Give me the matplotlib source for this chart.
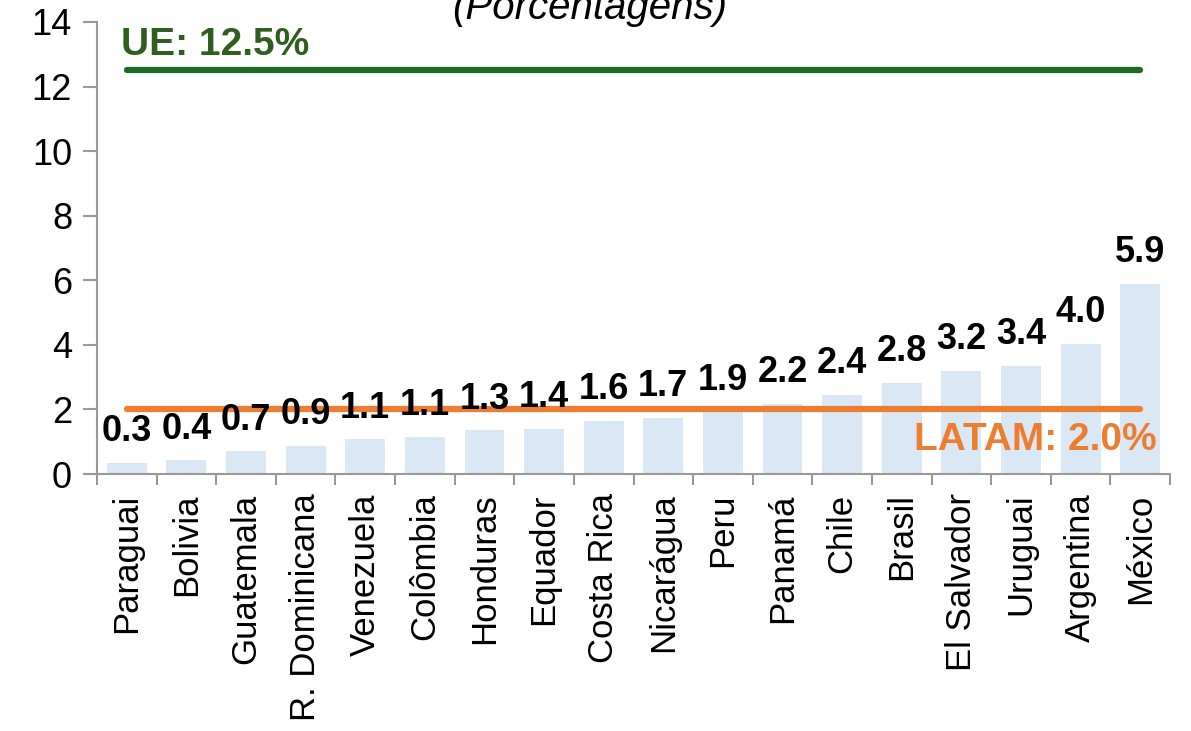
import matplotlib
matplotlib.use("Agg")
import matplotlib.pyplot as plt
import numpy as np

countries = ["Paraguai", "Bolivia", "Guatemala", "R. Dominicana", "Venezuela", "Colômbia",
             "Honduras", "Equador", "Costa Rica", "Nicarágua", "Peru", "Panamá", "Chile",
             "Brasil", "El Salvador", "Uruguai", "Argentina", "México"]
values = [0.35, 0.42, 0.70, 0.88, 1.07, 1.15, 1.35, 1.40, 1.63, 1.73, 1.92, 2.18, 2.45,
          2.83, 3.18, 3.35, 4.02, 5.90]
labels = ["0.3", "0.4", "0.7", "0.9", "1.1", "1.1", "1.3", "1.4", "1.6", "1.7", "1.9", "2.2",
          "2.4", "2.8", "3.2", "3.4", "4.0", "5.9"]
ue_value = 12.5
latam_value = 2.0
yticks = [0, 2, 4, 6, 8, 10, 12, 14]

plt.rcParams['font.family'] = ['Liberation Sans', 'DejaVu Sans']

fig = plt.figure(figsize=(11.91, 7.31), dpi=100)
ax = fig.add_axes([97/1191, 1-474/731, (1170-97)/1191, (474-22)/731])

x = np.arange(len(countries))
ax.bar(x, values, width=0.67, color="#DAE7F4", zorder=1)

ax.plot([x[0], x[-1]], [ue_value, ue_value], color="#1E6B25", lw=4.5,
        solid_capstyle="round", zorder=3)
ax.plot([x[0], x[-1]], [latam_value, latam_value], color="#ED7D31", lw=4.5,
        solid_capstyle="round", zorder=3)

for xi, v, lab in zip(x, values, labels):
    ax.annotate(lab, (xi, v), xytext=(0, 10), textcoords="offset points",
                ha="center", va="bottom", fontsize=26, fontweight="bold", color="black", zorder=4)

ax.text(-0.1, 13.28, f"UE: {ue_value}%", color="#2F5F1E", fontsize=28, fontweight="bold",
        ha="left", va="center")
ax.text(17.27, 1.05, f"LATAM: {latam_value:.1f}%", color="#ED7D31", fontsize=28,
        fontweight="bold", ha="right", va="center")

ax.set_xlim(-0.5, len(countries) - 0.5)
ax.set_ylim(0, 14)
ax.set_yticks(yticks)
ax.set_yticklabels([str(t) for t in yticks], fontsize=26)
ax.set_xticks(x)
ax.set_xticklabels(countries, rotation=90, fontsize=25)
ax.tick_params(axis="x", length=0, pad=14)
ax.set_xticks(np.arange(-0.5, len(countries), 1.0), minor=True)
ax.tick_params(axis="x", which="minor", length=8, color="#999999", width=1.5, direction="out")
ax.tick_params(axis="y", length=10, color="#999999", width=1.5, pad=8)

for s in ["top", "right"]:
    ax.spines[s].set_visible(False)
for s in ["left", "bottom"]:
    ax.spines[s].set_color("#999999")
    ax.spines[s].set_linewidth(1.5)

fig.text(590/1191, 1-8/731, "(Porcentagens)", style="italic", fontsize=29,
         ha="center", va="center")

fig.savefig("out.png", dpi=100)
